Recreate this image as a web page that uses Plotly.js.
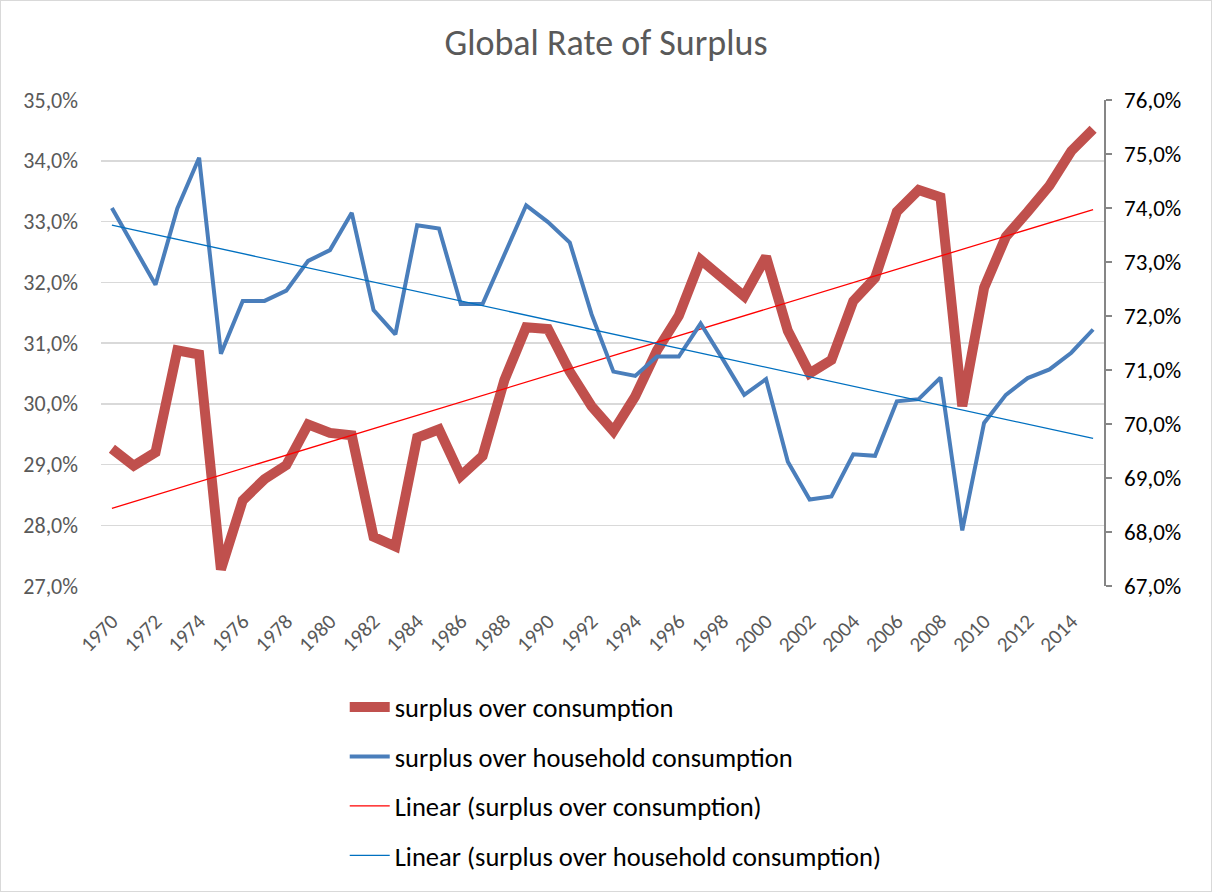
<!DOCTYPE html>
<html>
<head>
<meta charset="utf-8">
<script src="https://cdn.plot.ly/plotly-3.0.1.min.js"></script>
<style>
  html, body { margin: 0; padding: 0; background: #fff; }
  #frame { box-sizing: border-box; width: 1212px; height: 892px; border: 1px solid #d9d9d9; }
  #chart { width: 1210px; height: 890px; }
</style>
</head>
<body>
<div id="frame"><div id="chart"></div></div>
<script>
const years = [1970,1971,1972,1973,1974,1975,1976,1977,1978,1979,1980,1981,1982,1983,1984,1985,1986,1987,1988,1989,1990,1991,1992,1993,1994,1995,1996,1997,1998,1999,2000,2001,2002,2003,2004,2005,2006,2007,2008,2009,2010,2011,2012,2013,2014,2015];

// surplus over consumption (left axis, %)
const surplusOverConsumption = [29.26,28.98,29.20,30.88,30.81,27.27,28.41,28.76,28.99,29.66,29.52,29.48,27.81,27.65,29.44,29.58,28.81,29.14,30.39,31.26,31.23,30.53,29.96,29.55,30.12,30.88,31.45,32.37,32.07,31.77,32.42,31.20,30.50,30.72,31.69,32.07,33.16,33.52,33.40,29.96,31.91,32.75,33.16,33.59,34.16,34.52];

// surplus over household consumption (right axis, %)
const surplusOverHousehold = [74.00,73.29,72.58,73.99,74.93,71.30,72.28,72.28,72.47,73.02,73.22,73.91,72.11,71.66,73.68,73.62,72.22,72.22,73.13,74.05,73.74,73.36,72.03,70.97,70.89,71.25,71.25,71.86,71.21,70.54,70.83,69.30,68.60,68.66,69.44,69.41,70.42,70.46,70.86,68.03,70.02,70.54,70.85,71.01,71.32,71.75];

const xTickLabels = ['1970','1972','1974','1976','1978','1980','1982','1984','1986','1988','1990','1992','1994','1996','1998','2000','2002','2004','2006','2008','2010','2012','2014'];

const leftTicks = [27,28,29,30,31,32,33,34,35];
const rightTicks = [67,68,69,70,71,72,73,74,75,76];

const seriesNames = ['surplus over consumption','surplus over household consumption','Linear (surplus over consumption)','Linear (surplus over household consumption)'];

const fmtPct = v => v.toFixed(1).replace('.', ',') + '%';

// least-squares linear trend (as Excel trendline)
function linFit(x, y) {
  const n = x.length;
  let sx=0, sy=0, sxx=0, sxy=0;
  for (let i=0;i<n;i++){ sx+=x[i]; sy+=y[i]; sxx+=x[i]*x[i]; sxy+=x[i]*y[i]; }
  const b = (n*sxy - sx*sy)/(n*sxx - sx*sx);
  const a = (sy - b*sx)/n;
  return x.map(v => a + b*v);
}
const trendRed = linFit(years, surplusOverConsumption);
const trendBlue = linFit(years, surplusOverHousehold);

const FONT = 'Carlito, Calibri, Lato, "Open Sans", sans-serif';

const traces = [
  { x: years, y: surplusOverConsumption, name: seriesNames[0], type: 'scatter', mode: 'lines',
    line: { color: '#C0504D', width: 10 }, yaxis: 'y', legendgroup: 'a' },
  { x: years, y: surplusOverHousehold, name: seriesNames[1], type: 'scatter', mode: 'lines',
    line: { color: '#4A7EBB', width: 4 }, yaxis: 'y2', legendgroup: 'b' },
  { x: years, y: trendRed, name: seriesNames[2], type: 'scatter', mode: 'lines',
    line: { color: '#FF0000', width: 1.3 }, yaxis: 'y', legendgroup: 'c' },
  { x: years, y: trendBlue, name: seriesNames[3], type: 'scatter', mode: 'lines',
    line: { color: '#0070C0', width: 1.3 }, yaxis: 'y2', legendgroup: 'd' }
];

const layout = {
  width: 1210, height: 890,
  paper_bgcolor: '#ffffff', plot_bgcolor: '#ffffff',
  font: { family: FONT, color: '#595959' },
  margin: { l: 100, r: 107, t: 99, b: 299, pad: 0 },
  title: { text: 'Global Rate of Surplus', font: { size: 36, color: '#595959', family: FONT }, x: 0.5, xanchor: 'center', y: 0.953, yanchor: 'middle' },
  showlegend: true,
  legend: { orientation: 'v', x: 0.243, y: -0.2, xanchor: 'left', yanchor: 'top',
    font: { size: 26.5, color: '#000000', family: FONT }, tracegroupgap: 12, itemwidth: 40, bgcolor: 'rgba(0,0,0,0)' },
  xaxis: {
    range: [1969.5, 2015.5], tickmode: 'array', tickvals: xTickLabels.map(Number), ticktext: xTickLabels,
    tickangle: -45, tickfont: { size: 21, color: '#595959' }, showgrid: false, zeroline: false,
    showline: false, ticks: '', fixedrange: true, ticklabelstandoff: 18
  },
  yaxis: {
    range: [27, 35], tickmode: 'array', tickvals: leftTicks, ticktext: leftTicks.map(fmtPct),
    tickfont: { size: 22, color: '#595959' }, showgrid: true, gridcolor: '#d9d9d9', gridwidth: 1.5,
    zeroline: false, showline: false, ticks: '', ticklabelstandoff: 22
  },
  yaxis2: {
    range: [67, 76], overlaying: 'y', side: 'right', tickmode: 'array', tickvals: rightTicks,
    ticktext: rightTicks.map(fmtPct), tickfont: { size: 23, color: '#000000' }, showgrid: false,
    zeroline: false, showline: true, linecolor: '#868686', linewidth: 1.5, ticks: 'outside', ticklen: 6,
    tickcolor: '#868686', tickwidth: 1.5, ticklabelstandoff: 8
  }
};

Plotly.newPlot('chart', traces, layout, { displayModeBar: false, staticPlot: true });
</script>
</body>
</html>
